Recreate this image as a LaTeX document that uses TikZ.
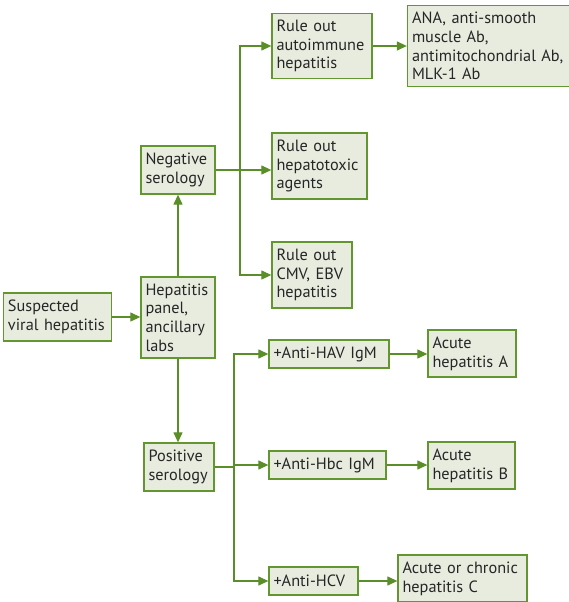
\documentclass[tikz,border=0pt]{standalone}
\usepackage{fontspec}
\setmainfont{PT Sans}
\usetikzlibrary{arrows.meta}
\definecolor{edgegreen}{HTML}{62962E}
\definecolor{linegreen}{HTML}{5A8E28}
\definecolor{boxfill}{HTML}{E7ECDF}
\tikzset{
  box/.style={draw=edgegreen, fill=boxfill, line width=1.3pt, inner xsep=4.5pt,
    inner ysep=3pt, align=left, font=\fontsize{16.3}{18.7}\selectfont,
    text=black!85},
  arr/.style={draw=linegreen, line width=1.2pt,
    -{Triangle[length=10pt,width=9pt]}},
  link/.style={draw=linegreen, line width=1.2pt},
}
\begin{document}
\begin{tikzpicture}[x=1pt,y=-1pt]
\useasboundingbox (0,0) rectangle (568,602);
% left column
\node[box, text width=99pt, minimum height=48pt] (susp) at (57.5,317) {Suspected\\viral hepatitis};
\node[box, text width=65pt, minimum height=81pt] (panel) at (178,317.5) {Hepatitis\\panel,\\ancillary\\labs};
\node[box, text width=65pt, minimum height=48pt] (neg) at (178,170) {Negative\\serology};
\node[box, text width=61pt, minimum height=48pt] (pos) at (179,467) {Positive\\serology};
% negative branch
\node[box, text width=91pt, minimum height=65pt] (autoimm) at (322,46) {Rule out\\autoimmune\\hepatitis};
\node[box, text width=156pt, minimum height=81pt] (abtests) at (490,46) {ANA, anti-smooth\\muscle Ab,\\antimitochondrial Ab,\\MLK-1 Ab};
\node[box, text width=86pt, minimum height=66pt] (tox) at (319.5,166) {Rule out\\hepatotoxic\\agents};
\node[box, text width=71pt, minimum height=66pt] (cmv) at (312,275) {Rule out\\CMV, EBV\\hepatitis};
% positive branch
\node[box, text width=111pt, minimum height=28pt] (hav) at (329,354) {+Anti-HAV IgM};
\node[box, text width=79pt, minimum height=47pt] (acA) at (472,353.5) {Acute\\hepatitis A};
\node[box, text width=108pt, minimum height=28pt] (hbc) at (327.5,465) {+Anti-Hbc IgM};
\node[box, text width=78pt, minimum height=47pt] (acB) at (471.5,465.5) {Acute\\hepatitis B};
\node[box, text width=80pt, minimum height=28pt] (hcv) at (313.5,581) {+Anti-HCV};
\node[box, text width=120pt, minimum height=47pt] (acC) at (462.5,578.5) {Acute or chronic\\hepatitis C};
% bus points
\coordinate (nbus) at (240,170);
\coordinate (pbus) at (234,467);
% connectors
\draw[arr] (susp.east) -- (panel.west |- susp.east);
\draw[arr] (panel.north) -- (neg.south);
\draw[arr] (panel.south) -- (pos.north -| panel.south);
\draw[link] (neg.east |- nbus) -- (nbus);
\draw[arr] (nbus) |- (autoimm.west);
\draw[arr] (nbus) -- (tox.west |- nbus);
\draw[arr] (nbus) |- (cmv.west);
\draw[arr, line width=1.3pt] (autoimm.east) -- (abtests.west);
\draw[link] (pos.east |- pbus) -- (pbus);
\draw[arr] (pbus) |- (hav.west);
\draw[arr] (pbus) |- (hbc.west);
\draw[arr] (pbus) |- (hcv.west);
\draw[arr] (hav.east) -- (acA.west |- hav.east);
\draw[arr] (hbc.east) -- (acB.west |- hbc.east);
\draw[arr] (hcv.east) -- (acC.west |- hcv.east);
\end{tikzpicture}
\end{document}
